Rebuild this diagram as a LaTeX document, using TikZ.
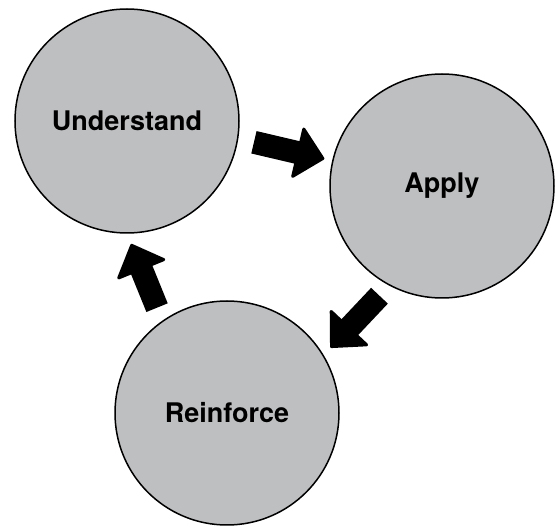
\documentclass[tikz,border=0pt]{standalone}
\usepackage{fontspec}
\setsansfont{TeX Gyre Heros}
\usetikzlibrary{
arrows.meta,
positioning
}
\definecolor{phasegray}{RGB}{190,191,193}
\tikzset{>=latex}

\begin{document}
\begin{tikzpicture}[x=1pt, y=-1pt, font=\sffamily\bfseries\fontsize{27}{31}\selectfont,
	phase/.style={circle, draw, line width=1.5pt, fill=phasegray, minimum size=224pt, inner sep=0pt},
	blockarrow/.style={line width=23pt, -{Triangle[length=29pt, width=55pt, line width=3pt, round]}}]
		\useasboundingbox (0,0) rectangle (558,529);
		
		\node[phase] (understand) at (127,121) {Understand};
		\node[phase] (apply)      at (442,186) {Apply};
		\node[phase] (reinforce)  at (227,413) {Reinforce};
		
		\draw[blockarrow, shorten <=16pt, shorten >=8pt] (understand.-9.5) -- (apply.167.5);
		\draw[blockarrow, shorten <=14pt, shorten >=10pt] (apply.-118) -- (reinforce.31);
		\draw[blockarrow, shorten <=14pt, shorten >=11pt] (reinforce.125) -- (understand.-90);
	\end{tikzpicture}
\end{document}
